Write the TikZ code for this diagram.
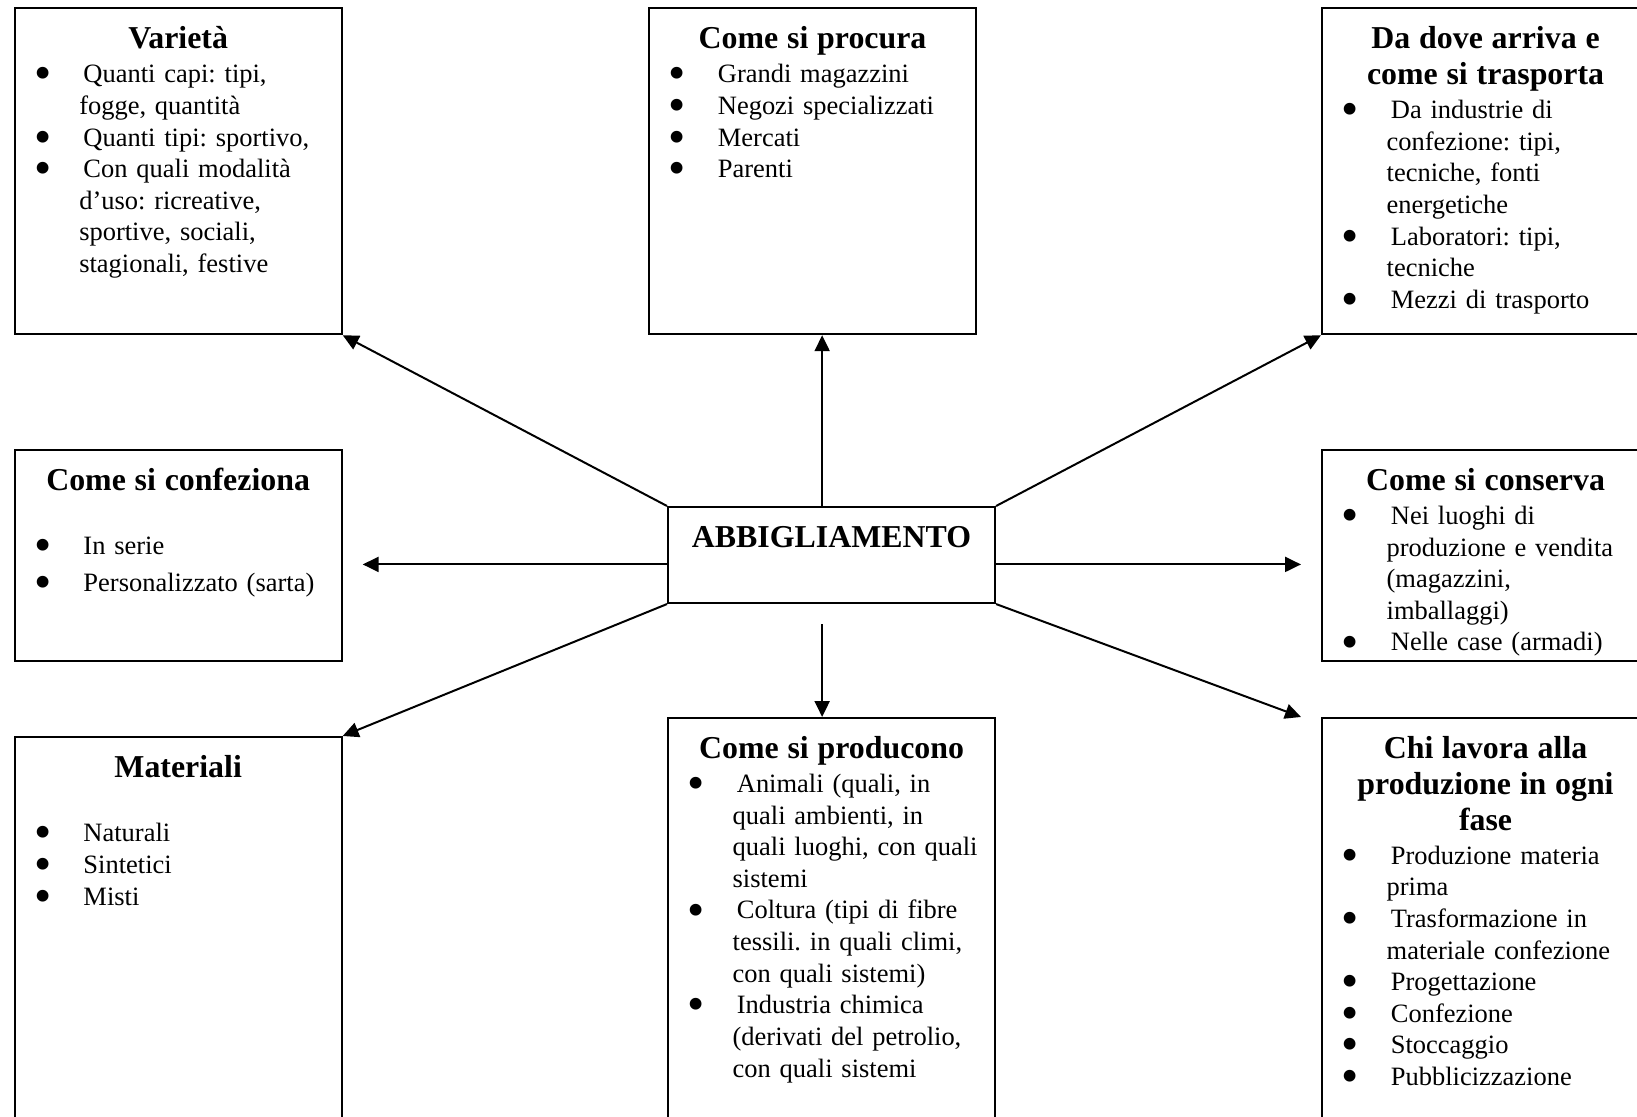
\documentclass[tikz,border=0pt]{standalone}
\usepackage{fontspec}
\setmainfont{Liberation Serif}
\usetikzlibrary{positioning,calc,arrows.meta}

\newcommand{\ttl}[1]{{\centering\fontsize{13.6}{15.3}\selectfont\bfseries\rule{0pt}{14pt}#1\par}\vspace{1pt}}
\newcommand{\itm}[1]{\par\begingroup\let\\\newline\hangindent=27.6pt\hangafter=1\noindent\hspace*{12pt}%
  \makebox[0pt]{\raisebox{-3pt}{\fontsize{21}{21}\selectfont\textbullet}}\hspace*{17.4pt}#1\par\endgroup}

\begin{document}
\begin{tikzpicture}[x=0.015cm,y=-0.015cm,
  box/.style={draw,line width=0.85pt,anchor=north west,inner sep=0pt,minimum width=139.6pt},
  txt/.style={inner sep=0pt,text width=139.6pt,font=\fontsize{11.3}{13.5}\selectfont\frenchspacing},
  arr/.style={line width=0.85pt,-{Triangle[length=6.8pt,width=6.4pt]}}]
\useasboundingbox (0,0) rectangle (1637,1117);
\clip (0,0) rectangle (1637,1117);

% boxes
\node[box,minimum height=139.1pt] (varieta) at (13.6,7.3) {};
\node[box,minimum height=139.1pt] (procura) at (648,7.3) {};
\node[box,minimum height=139.1pt] (dadove) at (1321,7.3) {};
\node[box,minimum height=90.1pt] (confeziona) at (13.6,449) {};
\node[box,minimum height=41pt] (abbig) at (667,506) {};
\node[box,minimum height=90.1pt] (conserva) at (1321,449) {};
\node[box,minimum height=168.2pt] (materiali) at (13.6,736) {};
\node[box,minimum height=176.3pt] (producono) at (667,717) {};
\node[box,minimum height=176.3pt] (chilavora) at (1321,717) {};

% texts
\node[txt,below=3.5pt of varieta.north] (tvarieta) {\ttl{Varietà}%
  \itm{Quanti capi: tipi,\\fogge, quantità}%
  \itm{Quanti tipi: sportivo,}%
  \itm{Con quali modalità\\d’uso: ricreative,\\sportive, sociali,\\stagionali, festive}};
\node[txt,below=3.5pt of procura.north] (tprocura) {\ttl{Come si procura}%
  \itm{Grandi magazzini}\itm{Negozi specializzati}\itm{Mercati}\itm{Parenti}};
\node[txt,below=3.5pt of dadove.north] (tdadove) {\ttl{Da dove arriva e\\come si trasporta}%
  \itm{Da industrie di\\confezione: tipi,\\tecniche, fonti\\energetiche}%
  \itm{Laboratori: tipi,\\tecniche}%
  \itm{Mezzi di trasporto}};
\node[txt,below=3.5pt of confeziona.north] (tconfeziona) {\ttl{Come si confeziona}\vspace{13pt}%
  \itm{In serie}\vspace{2pt}\itm{Personalizzato (sarta)}};
\node[txt,below=3.5pt of abbig.north] (tabbig) {\ttl{ABBIGLIAMENTO}};
\node[txt,below=3.5pt of conserva.north] (tconserva) {\ttl{Come si conserva}%
  \itm{Nei luoghi di\\produzione e vendita\\(magazzini,\\imballaggi)}%
  \itm{Nelle case (armadi)}};
\node[txt,below=3.5pt of materiali.north] (tmateriali) {\ttl{Materiali}\vspace{13pt}%
  \itm{Naturali}\itm{Sintetici}\itm{Misti}};
\node[txt,below=3.5pt of producono.north] (tproducono) {\ttl{Come si producono}%
  \itm{Animali (quali, in\\quali ambienti, in\\quali luoghi, con quali\\sistemi}%
  \itm{Coltura (tipi di fibre\\tessili. in quali climi,\\con quali sistemi)}%
  \itm{Industria chimica\\(derivati del petrolio,\\con quali sistemi}};
\node[txt,below=3.5pt of chilavora.north] (tchilavora) {\ttl{Chi lavora alla\\produzione in ogni\\fase}%
  \itm{Produzione materia\\prima}%
  \itm{Trasformazione in\\materiale confezione}%
  \itm{Progettazione}\itm{Confezione}\itm{Stoccaggio}\itm{Pubblicizzazione}};

% arrows
\coordinate (up) at ($(abbig.north)+(-9.4,0)$);
\coordinate (dn) at ($(abbig.south)+(-9.4,20)$);
\coordinate (lt) at ($(abbig.west)+(0,9.4)$);
\coordinate (rt) at ($(abbig.east)+(0,9.4)$);
\draw[arr] (abbig.north west) -- (varieta.south east);
\draw[arr] (up) -- (up |- procura.south);
\draw[arr] (abbig.north east) -- (dadove.south west);
\draw[arr] (lt) -- ($(lt -| confeziona.east)+(20,0)$);
\draw[arr] (rt) -- ($(rt -| conserva.west)+(-20,0)$);
\draw[arr] (abbig.south west) -- (materiali.north east);
\draw[arr] (dn) -- (dn |- producono.north);
\draw[arr] (abbig.south east) -- ($(chilavora.north west)+(-20,0)$);
\end{tikzpicture}
\end{document}
